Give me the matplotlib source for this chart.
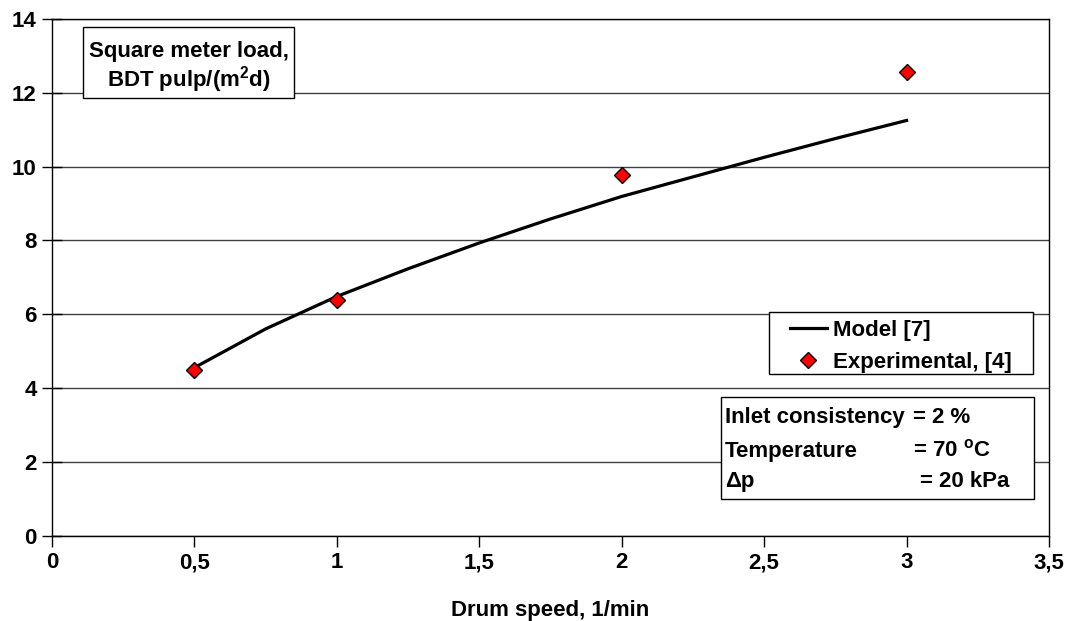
import matplotlib
matplotlib.use("Agg")
import matplotlib.pyplot as plt
from matplotlib.patches import Rectangle
from matplotlib.ticker import FuncFormatter

# ---- data ----
model_x = [0.5, 0.75, 1.0, 1.25, 1.5, 1.75, 2.0, 2.25, 2.5, 2.75, 3.0]
model_y = [4.55, 5.6, 6.48, 7.23, 7.93, 8.58, 9.19, 9.72, 10.25, 10.76, 11.25]
exp_x = [0.5, 1.0, 2.0, 3.0]
exp_y = [4.49, 6.37, 9.78, 12.57]
x_ticks = [0, 0.5, 1, 1.5, 2, 2.5, 3, 3.5]
y_ticks = [0, 2, 4, 6, 8, 10, 12, 14]
x_label = "Drum speed, 1/min"
y_box_lines = ["Square meter load,", "BDT pulp/(m$^{2}$d)"]
legend_labels = ["Model [7]", "Experimental, [4]"]
info_left = ["Inlet consistency", "Temperature", "\u0394p"]
info_right = ["= 2 %", "= 70 $^{\\mathrm{o}}$C", "= 20 kPa"]

plt.rcParams['font.family'] = ['Liberation Sans', 'DejaVu Sans']
plt.rcParams['font.weight'] = 'bold'
plt.rcParams['mathtext.fontset'] = 'custom'
plt.rcParams['mathtext.rm'] = 'Liberation Sans:bold'
plt.rcParams['mathtext.it'] = 'Liberation Sans:bold'
plt.rcParams['mathtext.bf'] = 'Liberation Sans:bold'

W, H = 1070, 621
fig = plt.figure(figsize=(W / 100, H / 100), dpi=100)

def fx(x):
    return x / W

def fy(y):
    return 1 - y / H

ax = fig.add_axes([fx(52), fy(535.5), fx(1049) - fx(52), fy(19) - fy(535.5)])
ax.set_xlim(0, 3.5)
ax.set_ylim(0, 14)
ax.set_xticks(x_ticks)
ax.set_yticks(y_ticks)
fmt = FuncFormatter(lambda v, p: ("%g" % v).replace(".", ","))
ax.xaxis.set_major_formatter(fmt)
ax.yaxis.set_major_formatter(fmt)
ax.tick_params(axis='x', direction='out', length=8, width=1, pad=4, labelsize=16)
ax.tick_params(axis='y', direction='inout', length=14, width=1, pad=4, labelsize=16)
for lab in ax.get_xticklabels() + ax.get_yticklabels():
    lab.set_fontweight('bold')
ax.yaxis.grid(True, color='#404040', linewidth=1)
ax.set_axisbelow(True)
for s in ax.spines.values():
    s.set_color('black')
    s.set_linewidth(1)
ax.set_xlabel(x_label, fontsize=16, fontweight='bold', labelpad=19)

l1, = ax.plot(model_x, model_y, color='black', linewidth=2.3, label=legend_labels[0], zorder=3)
l2, = ax.plot(exp_x, exp_y, linestyle='none', marker='D', markersize=7.8,
              markerfacecolor='#ff0000', markeredgecolor='black', markeredgewidth=1,
              label=legend_labels[1], zorder=4)

# y-label box
fig.patches.append(Rectangle((fx(83), fy(98)), fx(294) - fx(83), fy(27) - fy(98),
                             transform=fig.transFigure, facecolor='white',
                             edgecolor='black', linewidth=1, zorder=5))
fig.text(fx(188.5), fy(56.7), y_box_lines[0], ha='center', va='baseline',
         fontsize=16, fontweight='bold', zorder=6)
fig.text(fx(188.5), fy(86.7), y_box_lines[1], ha='center', va='baseline',
         fontsize=16, fontweight='bold', zorder=6)

# legend box
fig.patches.append(Rectangle((fx(769), fy(374)), fx(1033) - fx(769), fy(312) - fy(374),
                             transform=fig.transFigure, facecolor='white',
                             edgecolor='black', linewidth=1, zorder=5))
leg = fig.legend(handles=[l1, l2], labels=legend_labels, loc='upper left',
                 bbox_to_anchor=(fx(790), fy(320)), bbox_transform=fig.transFigure,
                 frameon=False, borderpad=0, borderaxespad=0, handlelength=1.65,
                 handletextpad=0.3, labelspacing=0.5,
                 prop={'weight': 'bold', 'size': 16})
leg.set_zorder(6)

# info box
fig.patches.append(Rectangle((fx(720.7), fy(499.3)), fx(1034) - fx(720.7), fy(396.7) - fy(499.3),
                             transform=fig.transFigure, facecolor='white',
                             edgecolor='black', linewidth=1, zorder=5))
baselines = [423.3, 456.7, 486.7]
right_x = [913.3, 913.3, 920]
for t, b in zip(info_left, baselines):
    fig.text(fx(725), fy(b), t, ha='left', va='baseline', fontsize=16,
             fontweight='bold', zorder=6)
for t, b, rx in zip(info_right, baselines, right_x):
    fig.text(fx(rx), fy(b), t, ha='left', va='baseline', fontsize=16,
             fontweight='bold', zorder=6)

fig.savefig("out.png", dpi=100)
